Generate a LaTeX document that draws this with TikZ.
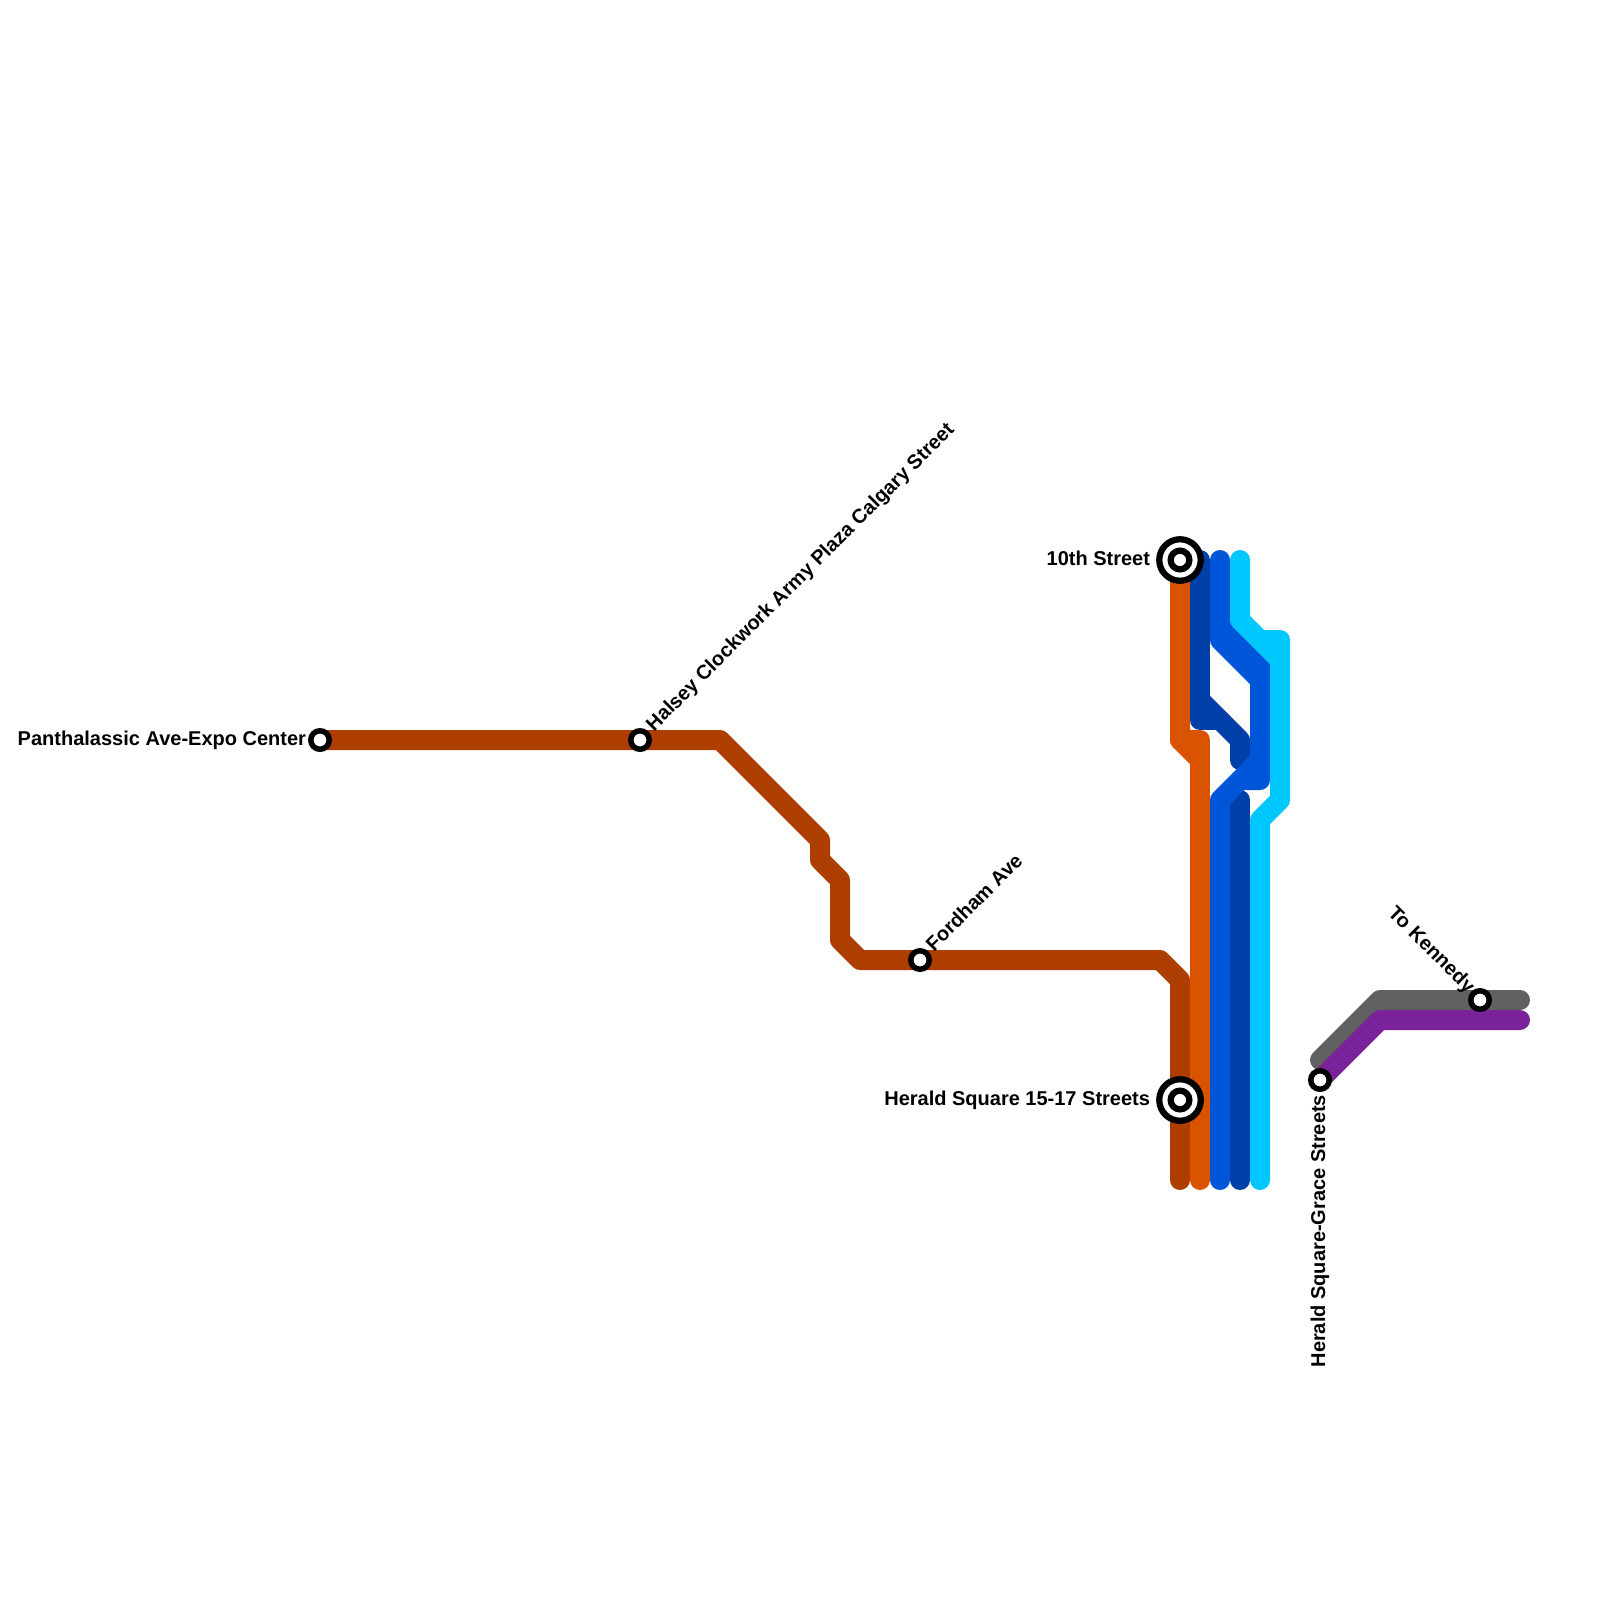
\documentclass[tikz,border=0pt]{standalone}
\usepackage{fontspec}
\setmainfont{Liberation Sans}
\usetikzlibrary{backgrounds}
\definecolor{cbrown}{HTML}{AE3E00}
\definecolor{corange}{HTML}{D95300}
\definecolor{cdark}{HTML}{0040A8}
\definecolor{cblue}{HTML}{0056D8}
\definecolor{clight}{HTML}{00C8FF}
\definecolor{cgray}{HTML}{606060}
\definecolor{cpurple}{HTML}{7A229A}
\tikzset{
  x=1pt,y=-1pt,
  route/.style={line width=20pt,line cap=round,line join=round},
  stn/.style={circle,draw=black,fill=white,line width=5.5pt,minimum size=18.5pt,inner sep=0pt,outer sep=0pt},
  ixouter/.style={circle,draw=black,fill=white,line width=6.25pt,minimum size=41.5pt,inner sep=0pt,outer sep=0pt},
  ixinner/.style={circle,draw=black,fill=white,line width=6.25pt,minimum size=18.75pt,inner sep=0pt,outer sep=0pt},
  lbl/.style={font=\fontsize{20}{22}\selectfont\bfseries,inner sep=0pt,outer sep=0pt,text=black},
}
\begin{document}
\begin{tikzpicture}
\useasboundingbox (0,0) rectangle (1600,1600);
% stations
\node[stn] (panth) at (320,740) {};
\node[stn] (halsey) at (640,740) {};
\node[stn] (fordham) at (920,960) {};
\node[stn] (grace) at (1320,1080) {};
\node[stn] (kennedy) at (1480,1000) {};
\node[ixouter] (tenth) at (1180,560) {};
\node[ixinner] (tenthi) at (1180,560) {};
\node[ixouter] (herald) at (1180,1100) {};
\node[ixinner] (heraldi) at (1180,1100) {};
% labels
\node[lbl,anchor=base east] (lpanth) at (306,745) {Panthalassic Ave-Expo Center};
\node[lbl,anchor=base east] (ltenth) at (1150,565) {10th Street};
\node[lbl,anchor=base east] (lherald) at (1150,1105) {Herald Square 15-17 Streets};
\node[lbl,anchor=base west,rotate=45] (lhalsey) at (654,732) {Halsey Clockwork Army Plaza Calgary Street};
\node[lbl,anchor=base west,rotate=45] (lfordham) at (934,952) {Fordham Ave};
\node[lbl,anchor=base east,rotate=90] (lgrace) at (1325,1095) {Herald Square-Grace Streets};
\node[lbl,anchor=base east,rotate=-45] (lkennedy) at (1467,994) {To Kennedy};
% routes
\begin{scope}[on background layer]
\fill[white] (0,0) rectangle (1600,1600);
\draw[route,cbrown] (panth.center) -- (720,740) -- (820,840) -- (820,860) -- (840,880) -- (840,940) -- (860,960) -- (1160,960) -- (1180,980) -- (1180,1180);
\draw[route,corange] (tenth.center) -- (1180,740) -- (1200,760);
\draw[route,corange] (1180,740) -- (1200,740) -- (1200,1180);
\draw[route,cdark] (1200,560) -- (1200,720) -- (1220,720);
\draw[route,cdark] (1200,700) -- (1240,740) -- (1240,760);
\draw[route,cdark] (1240,800) -- (1240,1180);
\draw[route,cblue] (1220,560) -- (1220,640) -- (1260,680) -- (1260,780) -- (1240,780);
\draw[route,cblue] (1220,620) -- (1260,660) -- (1260,700);
\draw[route,cblue] (1260,760) -- (1220,800) -- (1220,1180);
\draw[route,clight] (1240,560) -- (1240,620) -- (1280,660);
\draw[route,clight] (1260,640) -- (1280,640) -- (1280,800) -- (1260,820) -- (1260,1180);
\draw[route,cgray] (1320,1060) -- (1380,1000) -- (1520,1000);
\draw[route,cpurple] (grace.center) -- (1380,1020) -- (1520,1020);
\end{scope}
\end{tikzpicture}
\end{document}
